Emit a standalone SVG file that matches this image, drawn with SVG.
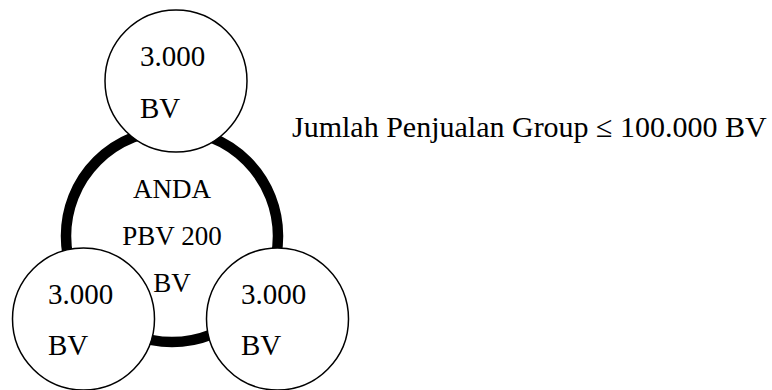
<svg xmlns="http://www.w3.org/2000/svg" width="772" height="390" viewBox="0 0 772 390">
<style>
.t{font-family:"Liberation Serif","Times New Roman",serif;fill:#000}
.o{font-size:29px}
.l{font-size:30px}
.c{font-size:27px;text-anchor:middle}
.n{fill:#fff;stroke:#000;stroke-width:1.5}
</style>
<rect width="772" height="390" fill="#fff"/>
<g id="connectors">
<circle cx="172" cy="236" r="106" fill="none" stroke="#000" stroke-width="10.5"/>
</g>
<g id="anda">
<text class="t c" x="172" y="198">ANDA</text>
<text class="t c" x="172" y="245">PBV 200</text>
<text class="t c" x="172" y="292">BV</text>
</g>
<g id="top">
<circle class="n" cx="176" cy="81" r="71"/>
<text class="t o" x="140" y="66">3.000</text>
<text class="t o" x="140" y="118">BV</text>
</g>
<g id="left">
<circle class="n" cx="83.5" cy="319" r="71"/>
<text class="t o" x="48" y="304">3.000</text>
<text class="t o" x="48" y="355">BV</text>
</g>
<g id="right">
<circle class="n" cx="277.5" cy="319" r="71"/>
<text class="t o" x="241" y="304">3.000</text>
<text class="t o" x="241" y="355">BV</text>
</g>
<g id="label">
<text class="t l" x="292" y="137">Jumlah Penjualan Group ≤ 100.000 BV</text>
</g>
</svg>
